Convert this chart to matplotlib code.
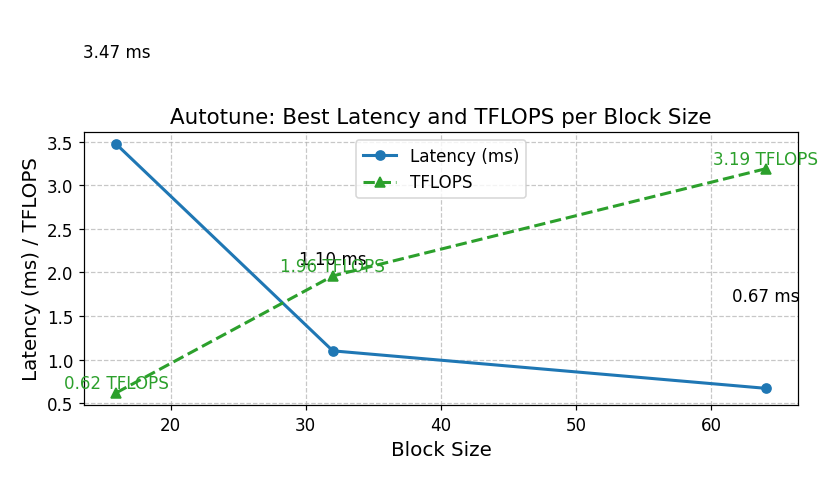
import matplotlib
matplotlib.use("Agg")
import matplotlib.pyplot as plt

block_sizes = [16, 32, 64]
latency_ms = [3.47, 1.10, 0.67]
tflops = [0.62, 1.96, 3.19]

DPI = 110
fig = plt.figure(figsize=(840 / DPI, 480 / DPI), dpi=DPI)
ax = fig.add_axes([0.1, 0.154, 0.85, 0.569])

ax.plot(block_sizes, latency_ms, marker='o', linestyle='-', color='#1f77b4',
        linewidth=2, markersize=6, label='Latency (ms)')
ax.plot(block_sizes, tflops, marker='^', linestyle='--', color='#2ca02c',
        linewidth=2, markersize=6, label='TFLOPS')

for x, y in zip(block_sizes, latency_ms):
    ax.annotate(f"{y:.2f} ms", (x, y), textcoords='offset pixels', xytext=(0, 83),
                ha='center', va='bottom', fontsize=11, color='black',
                annotation_clip=False)
for x, y in zip(block_sizes, tflops):
    ax.annotate(f"{y:.2f} TFLOPS", (x, y), textcoords='offset pixels', xytext=(0, 1),
                ha='center', va='bottom', fontsize=11, color='#2ca02c')

ax.set_title('Autotune: Best Latency and TFLOPS per Block Size', fontsize=14)
ax.set_xlabel('Block Size', fontsize=13)
ax.set_ylabel('Latency (ms) / TFLOPS', fontsize=13)
ax.tick_params(labelsize=11)
ax.grid(True, linestyle='--', alpha=0.7)
ax.legend(loc='upper center', fontsize=11)

fig.savefig('out.png', dpi=DPI)
